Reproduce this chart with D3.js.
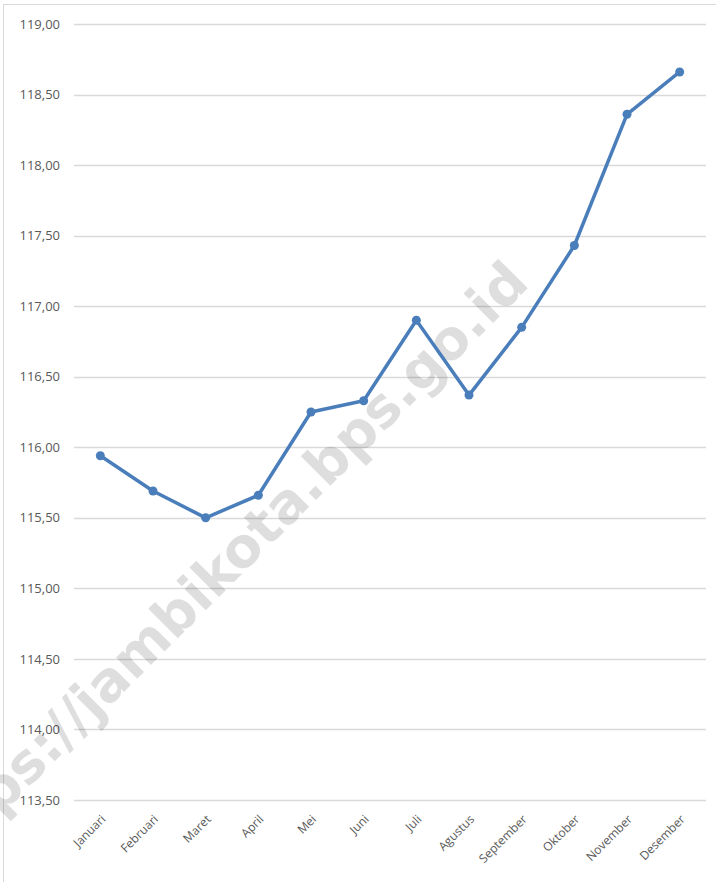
<!DOCTYPE html>
<html><head><meta charset="utf-8">
<script src="https://cdn.jsdelivr.net/npm/d3@7"></script>
<style>
html,body{margin:0;padding:0;background:#fff;}
svg{display:block;}
</style></head>
<body>
<div id="chart"></div>
<script>
const months = ["Januari","Februari","Maret","April","Mei","Juni","Juli","Agustus","September","Oktober","November","Desember"];
const values = [115.94,115.69,115.50,115.66,116.25,116.33,116.90,116.37,116.85,117.43,118.36,118.66];
const yTicks = [113.5,114,114.5,115,115.5,116,116.5,117,117.5,118,118.5,119];
const watermark = "https://jambikota.bps.go.id";

const W = 716, H = 882;
const m = {left:74, right:10, top:24, bottom:82};
const svg = d3.select("#chart").append("svg").attr("width",W).attr("height",H);

// outer border (top and left visible)
svg.append("rect").attr("x",3.5).attr("y",4.5).attr("width",W+10).attr("height",H+10)
  .attr("fill","none").attr("stroke","#d9d9d9").attr("stroke-width",1);

const x = d3.scaleBand().domain(months).range([m.left, W-m.right]);
const y = d3.scaleLinear().domain([113.5,119]).range([H-m.bottom, m.top]);

const fmt = v => d3.format(".2f")(v).replace(".", ",");

// gridlines
svg.append("g").selectAll("line").data(yTicks).join("line")
  .attr("x1",m.left).attr("x2",W-m.right)
  .attr("y1",d=>Math.round(y(d))+0.5).attr("y2",d=>Math.round(y(d))+0.5)
  .attr("stroke","#d9d9d9").attr("stroke-width",1.3);

// y labels
const yAxis = d3.axisLeft(y).tickValues(yTicks).tickFormat(fmt).tickSize(0).tickPadding(14);
const gy = svg.append("g").attr("transform",`translate(${m.left},0)`).call(yAxis);
gy.select(".domain").remove();
gy.selectAll("text").attr("fill","#595959").style("font-family","'Open Sans', 'Liberation Sans', sans-serif").style("font-size","13px");

// x labels
const xAxis = d3.axisBottom(x).tickSize(0).tickPadding(0);
const gx = svg.append("g").attr("transform",`translate(0,${H-m.bottom})`).call(xAxis);
gx.select(".domain").remove();
gx.selectAll(".tick text")
  .attr("text-anchor","end").attr("dy",0).attr("y",0)
  .attr("transform","translate(6,20) rotate(-45)")
  .attr("fill","#595959").style("font-family","'Open Sans', 'Liberation Sans', sans-serif").style("font-size","12px");

// watermark
svg.append("text").text(watermark)
  .attr("text-anchor","end")
  .attr("transform","translate(531,285) rotate(-45)")
  .attr("fill","#000").attr("fill-opacity",0.13)
  .style("font-family","'DejaVu Sans', sans-serif").style("font-weight","bold").style("font-size","55px");

// line
const line = d3.line().x((d,i)=>x(months[i])+x.bandwidth()/2).y(d=>y(d));
svg.append("path").datum(values).attr("d",line)
  .attr("fill","none").attr("stroke","#4a7ebb").attr("stroke-width",3.5).attr("stroke-linejoin","round").attr("stroke-linecap","round");
svg.append("g").selectAll("circle").data(values).join("circle")
  .attr("cx",(d,i)=>x(months[i])+x.bandwidth()/2).attr("cy",d=>y(d)).attr("r",4.5)
  .attr("fill","#4a7ebb");
</script>
</body></html>
